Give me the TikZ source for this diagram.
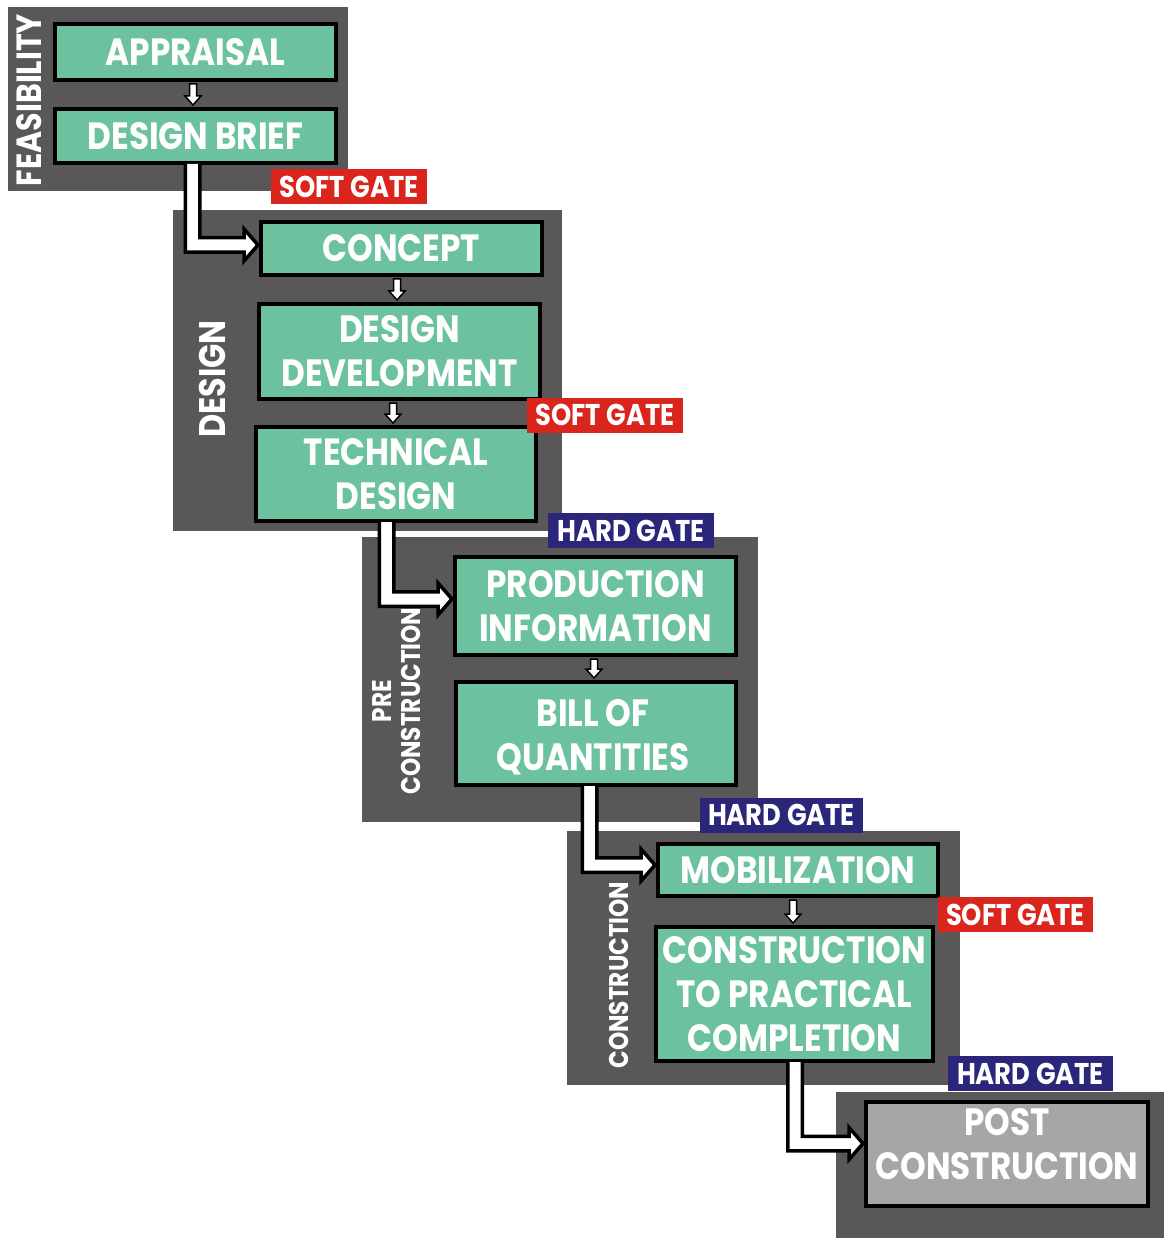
\documentclass[tikz,border=0pt]{standalone}
\usepackage{fontspec}
\newfontfamily\gfont{Poppins}[FakeStretch=0.86]
\usetikzlibrary{calc}

\definecolor{panelgrey}{RGB}{89,87,87}
\definecolor{stagegreen}{RGB}{108,194,158}
\definecolor{softred}{RGB}{218,37,29}
\definecolor{hardblue}{RGB}{42,38,122}
\definecolor{postgrey}{RGB}{166,166,166}

\tikzset{
  panel/.style={fill=panelgrey, draw=none, inner sep=0pt},
  stage/.style={draw=black, line width=4pt, fill=stagegreen, text=white,
    align=center, inner sep=0pt,
    font=\gfont\bfseries\fontsize{38}{44}\selectfont},
  poststage/.style={stage, fill=postgrey},
  stagetext/.style={text=white, align=center, inner sep=0pt,
    font=\gfont\bfseries\fontsize{38}{44}\selectfont},
  gate/.style={text=white, inner sep=0pt, minimum height=35pt,
    font=\gfont\bfseries\fontsize{30}{32}\selectfont},
  softgate/.style={gate, fill=softred},
  hardgate/.style={gate, fill=hardblue},
  phase/.style={text=white, rotate=90, align=center, inner sep=0pt,
    font=\gfont\bfseries\fontsize{37}{42}\selectfont},
  smallphase/.style={phase, font=\gfont\bfseries\fontsize{27}{29}\selectfont},
  elbow/.style={fill=white, draw=black, line width=3.5pt, line join=miter, miter limit=10},
  smallarrow/.style={fill=white, draw=black, line width=1.5pt, line join=miter, miter limit=10},
}

% elbow connector through a gate: #1 source, #2 stem shift, #3 target, #4 arm shift
\newcommand\gateconn[4]{%
  \coordinate (#1top) at ($(#1.south)+(#2,-1)$);
  \coordinate (#3tip) at ($(#3.west)+(-1,#4)$);
  \draw[elbow] ($(#1top)+(-7.25,0)$) -- ($(#1top|-#3tip)+(-7.25,7.25)$)
    -- ($(#3tip)+(-14,7.25)$) -- ($(#3tip)+(-14,16)$) -- (#3tip)
    -- ($(#3tip)+(-14,-16)$) -- ($(#3tip)+(-14,-7.25)$)
    -- ($(#1top|-#3tip)+(7.25,-7.25)$) -- ($(#1top)+(7.25,0)$);
}
% short arrow between two stages of one phase: #1 upper, #2 lower, #3 x shift
\newcommand\stepconn[3]{%
  \coordinate (#1out) at ($(#1.south)+(#3,2)$);
  \coordinate (#2in) at ($(#1out |- #2.north)+(0,-2)$);
  \draw[smallarrow] ($(#1out)+(-3.5,0)$) -- ($(#2in)+(-3.5,-9)$)
    -- ($(#2in)+(-8,-9)$) -- (#2in) -- ($(#2in)+(8,-9)$)
    -- ($(#2in)+(3.5,-9)$) -- ($(#1out)+(3.5,0)$) -- cycle;
}

\begin{document}
\begin{tikzpicture}[x=1pt, y=-1pt]
  \useasboundingbox[fill=white] (0,0) rectangle (1164,1238);

  % phase panels
  \node[panel, minimum width=340pt, minimum height=184pt] (feas)   at (178,99) {};
  \node[panel, minimum width=389pt, minimum height=321pt] (design) at (367.5,370.5) {};
  \node[panel, minimum width=396pt, minimum height=285pt] (precon) at (560,679.5) {};
  \node[panel, minimum width=393pt, minimum height=254pt] (constr) at (763.5,958) {};
  \node[panel, minimum width=328pt, minimum height=146pt] (postp)  at (1000,1165) {};

  % phase names
  \node[phase, font=\gfont\bfseries\fontsize{35}{40}\selectfont] (feaslabel) at (29,100) {FEASIBILITY};
  \node[phase] (designlabel) at (212,379) {DESIGN};
  \node[smallphase] (preconlabel) at (397,701) {PRE\\CONSTRUCTION};
  \node[smallphase] (constrlabel) at (619,975) {CONSTRUCTION};

  % stages
  \node[stage, minimum width=281pt, minimum height=56pt] (appraisal) at (195.5,52) {APPRAISAL};
  \node[stage, minimum width=281pt, minimum height=54pt] (brief) at (195.5,136) {DESIGN BRIEF};
  \node[stage, minimum width=281pt, minimum height=53pt] (concept) at (401.5,248.5) {CONCEPT};
  \node[stage, minimum width=281pt, minimum height=95pt] (devel) at (399.5,351.5) {DESIGN\\DEVELOPMENT};
  \node[stage, minimum width=280pt, minimum height=94pt] (tech) at (396,474) {TECHNICAL\\DESIGN};
  \node[stage, minimum width=281pt, minimum height=98pt] (prod) at (595.5,606) {PRODUCTION\\INFORMATION};
  \node[stage, minimum width=280pt, minimum height=103pt] (boq) at (596,733.5) {};
  \node[stagetext] (boqtext) at ($(boq.center)+(-3,4)$) {BILL OF\\QUANTITIES};
  \node[stage, minimum width=280pt, minimum height=52pt] (mob) at (798,870) {MOBILIZATION};
  \node[stage, minimum width=277pt, minimum height=134pt] (cpc) at (794.5,994) {CONSTRUCTION\\TO PRACTICAL\\COMPLETION};
  \node[poststage, minimum width=282pt, minimum height=104pt] (post) at (1007,1154) {};
  \node[stagetext] (posttext) at ($(post.center)+(0,-10)$) {POST\\CONSTRUCTION};

  % arrows within phases
  \stepconn{appraisal}{brief}{-2.5}
  \stepconn{concept}{devel}{-4.5}
  \stepconn{devel}{tech}{-6.5}
  \stepconn{prod}{boq}{-1.5}
  \stepconn{mob}{cpc}{-5}

  % arrows across gates
  \gateconn{brief}{-3}{concept}{-3.5}
  \gateconn{tech}{-9.5}{prod}{-7}
  \gateconn{boq}{-6.5}{mob}{-5}
  \gateconn{cpc}{0.5}{post}{-10.5}

  % gates
  \node[softgate, minimum width=156pt] (sg1) at (349,187) {SOFT GATE};
  \node[softgate, minimum width=156pt] (sg2) at (605,415) {SOFT GATE};
  \node[hardgate, minimum width=166pt] (hg1) at (631,530.5) {HARD GATE};
  \node[hardgate, minimum width=163pt] (hg2) at (781.5,815) {HARD GATE};
  \node[softgate, minimum width=155pt] (sg3) at (1015.5,914.5) {SOFT GATE};
  \node[hardgate, minimum width=165pt] (hg3) at (1030.5,1073.5) {HARD GATE};
\end{tikzpicture}
\end{document}
